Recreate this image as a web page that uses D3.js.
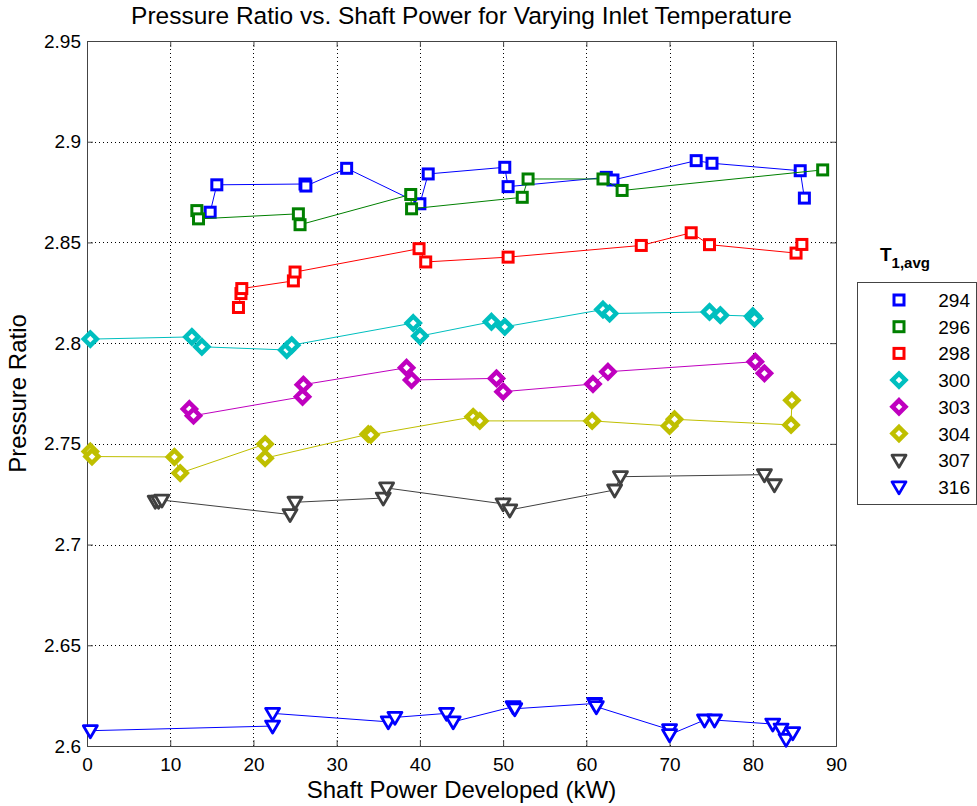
<!DOCTYPE html>
<html>
<head>
<meta charset="utf-8">
<script src="https://cdn.jsdelivr.net/npm/d3@7"></script>
<style>
  body { margin: 0; background: #fff; }
  text { font-family: "Liberation Sans", Arial, sans-serif; fill: #000; }
</style>
</head>
<body>
<script>
// series values: [power kW, pressure ratio]
const temps = ['294', '296', '298', '300', '303', '304', '307', '316'];
const colors = ['#0000ff', '#008000', '#ff0000', '#00bfbf', '#bf00bf', '#bfbf00', '#404040', '#0000ff'];
const shapes = ['square', 'square', 'square', 'diamond', 'diamond', 'diamond', 'tri', 'tri'];

const s294 = [[14.8, 2.865], [15.6, 2.8786], [26.2, 2.879], [26.3, 2.878], [31.2, 2.8868], [40.0, 2.8692], [41.0, 2.884],
  [50.2, 2.8873], [50.6, 2.8777], [62.4, 2.8823], [63.2, 2.881], [73.2, 2.8906], [75.1, 2.8893], [85.7, 2.8856], [86.2, 2.872]];
const s296 = [[13.2, 2.8658], [13.4, 2.8617], [25.4, 2.8642], [25.6, 2.8588], [38.9, 2.8738], [39.0, 2.8667],
  [52.3, 2.8724], [53.0, 2.8815], [62.0, 2.8815], [64.3, 2.8758], [88.4, 2.886]];
const s298 = [[18.2, 2.8177], [18.5, 2.8246], [18.6, 2.8271], [24.8, 2.8309], [25.0, 2.8353], [39.9, 2.8469], [40.7, 2.8403],
  [50.6, 2.8427], [66.6, 2.8485], [72.6, 2.8548], [74.8, 2.8489], [85.2, 2.8447], [85.9, 2.849]];
const s300 = [[0.4, 2.802], [12.6, 2.8031], [13.8, 2.7982], [24.0, 2.7966], [24.6, 2.799], [39.2, 2.810], [40.0, 2.8035],
  [48.6, 2.8106], [50.2, 2.8081], [62.0, 2.8167], [62.8, 2.8147], [74.8, 2.8155], [76.1, 2.8139], [80.0, 2.8134], [80.2, 2.8122]];
const s303 = [[12.3, 2.7673], [12.8, 2.764], [25.9, 2.7734], [26.0, 2.7794], [38.4, 2.7878], [39.0, 2.7817],
  [49.2, 2.7825], [50.0, 2.7759], [60.8, 2.7797], [62.6, 2.7858], [80.3, 2.7908], [81.4, 2.785]];
const s304 = [[0.4, 2.7462], [0.6, 2.7437], [10.5, 2.7435], [11.2, 2.7355], [21.4, 2.7499], [21.4, 2.7429], [33.8, 2.7548], [34.1, 2.7545],
  [46.4, 2.7634], [47.2, 2.7614], [60.7, 2.7614], [70.0, 2.7589], [70.6, 2.7622], [84.6, 2.7594], [84.7, 2.7716]];
const s307 = [[8.2, 2.7215], [8.6, 2.7215], [9.0, 2.7221], [24.4, 2.7149], [25.0, 2.721], [35.6, 2.7231], [36.0, 2.7281],
  [50.0, 2.7202], [50.8, 2.7172], [63.4, 2.7271], [64.1, 2.7337], [81.4, 2.7347], [82.6, 2.7297]];
const s316 = [[0.4, 2.6076], [22.3, 2.6099], [22.3, 2.6162], [36.2, 2.612], [37.0, 2.6142], [43.2, 2.6162], [44.0, 2.612],
  [51.2, 2.6195], [51.4, 2.6185], [61.0, 2.6211], [61.2, 2.6195], [70.0, 2.6081], [70.0, 2.6056], [74.2, 2.6129], [75.4, 2.6129],
  [82.4, 2.6109], [83.4, 2.6084], [84.0, 2.6033], [84.8, 2.6066]];
const seriesData = [s294, s296, s298, s300, s303, s304, s307, s316];

const xTicks = [0, 10, 20, 30, 40, 50, 60, 70, 80, 90];
const yTicks = [2.6, 2.65, 2.7, 2.75, 2.8, 2.85, 2.9, 2.95];

const W = 977, H = 806;
const plot = { left: 87, right: 836, top: 41, bottom: 746 };

const svg = d3.select('body').append('svg')
  .attr('width', W).attr('height', H);

const x = d3.scaleLinear().domain([0, 90]).range([plot.left, plot.right]);
const y = d3.scaleLinear().domain([2.6, 2.95]).range([plot.bottom, plot.top]);

// grid
const grid = svg.append('g').attr('class', 'grid');
grid.selectAll('.gx').data(xTicks.slice(1, -1)).enter().append('line')
  .attr('x1', d => Math.round(x(d)) + 0.5).attr('x2', d => Math.round(x(d)) + 0.5)
  .attr('y1', plot.top).attr('y2', plot.bottom)
  .attr('stroke', '#000').attr('stroke-width', 1).attr('stroke-dasharray', '1,3');
grid.selectAll('.gy').data(yTicks.slice(1, -1)).enter().append('line')
  .attr('y1', d => Math.round(y(d)) + 0.5).attr('y2', d => Math.round(y(d)) + 0.5)
  .attr('x1', plot.left).attr('x2', plot.right)
  .attr('stroke', '#000').attr('stroke-width', 1).attr('stroke-dasharray', '1,3');

// axes, ticks inside like matlab
const tickLen = 6;
const xAxis = d3.axisBottom(x).tickValues(xTicks).tickSize(-tickLen).tickPadding(12).tickFormat(d3.format('d'));
const yAxis = d3.axisLeft(y).tickValues(yTicks).tickSize(-tickLen).tickPadding(6).tickFormat(d => String(+d.toFixed(2)));

svg.append('g').attr('transform', `translate(0,${plot.bottom})`).call(xAxis);
svg.append('g').attr('transform', `translate(${plot.left},0)`).call(yAxis);
svg.append('g').attr('transform', `translate(0,${plot.top})`)
  .call(d3.axisTop(x).tickValues(xTicks).tickSize(-tickLen).tickFormat(''));
svg.append('g').attr('transform', `translate(${plot.right},0)`)
  .call(d3.axisRight(y).tickValues(yTicks).tickSize(-tickLen).tickFormat(''));

svg.selectAll('.domain').attr('stroke', '#444');
svg.selectAll('.tick line').attr('stroke', '#444');
svg.selectAll('.tick text').style('font-size', '19px').attr('fill', '#000');

// series
const marker = (shape, sel, c) => {
  if (shape === 'square') {
    sel.append('rect').attr('x', -5).attr('y', -5).attr('width', 10).attr('height', 10)
      .attr('fill', '#fff').attr('stroke', c).attr('stroke-width', 3);
  } else if (shape === 'diamond') {
    sel.append('path').attr('d', 'M0,-6.5L6.5,0L0,6.5L-6.5,0Z')
      .attr('fill', '#fff').attr('stroke', c).attr('stroke-width', 4.5).attr('stroke-linejoin', 'miter');
  } else {
    sel.append('path').attr('d', 'M-7,-5L7,-5L0,7Z')
      .attr('fill', '#fff').attr('stroke', c).attr('stroke-width', 2.8).attr('stroke-linejoin', 'round');
  }
};

const line = d3.line().x(d => x(d[0])).y(d => y(d[1]));

seriesData.forEach((data, i) => {
  const g = svg.append('g');
  g.append('path').datum(data)
    .attr('d', line).attr('fill', 'none')
    .attr('stroke', colors[i]).attr('stroke-width', 1);
  data.forEach(d => {
    const m = g.append('g').attr('transform', `translate(${x(d[0])},${y(d[1])})`);
    marker(shapes[i], m, colors[i]);
  });
});

// text
svg.append('text').attr('x', (plot.left + plot.right) / 2).attr('y', 24)
  .attr('text-anchor', 'middle').style('font-size', '24.5px')
  .text('Pressure Ratio vs. Shaft Power for Varying Inlet Temperature');
svg.append('text').attr('x', (plot.left + plot.right) / 2).attr('y', 798)
  .attr('text-anchor', 'middle').style('font-size', '24px')
  .text('Shaft Power Developed (kW)');
svg.append('text').attr('transform', `translate(26,${(plot.top + plot.bottom) / 2}) rotate(-90)`)
  .attr('text-anchor', 'middle').style('font-size', '24px')
  .text('Pressure Ratio');

// legend
const lt = svg.append('text').attr('x', 880).attr('y', 261)
  .style('font-size', '19px').style('font-weight', 'bold');
lt.append('tspan').text('T');
lt.append('tspan').attr('dy', 7).style('font-size', '15px').text('1,avg');

svg.append('rect').attr('x', 857.5).attr('y', 282.5).attr('width', 119).attr('height', 222)
  .attr('fill', '#fff').attr('stroke', '#444').attr('stroke-width', 1);

temps.forEach((t, i) => {
  const yy = 300 + i * 26.7;
  const m = svg.append('g').attr('transform', `translate(899,${yy})`);
  marker(shapes[i], m, colors[i]);
  svg.append('text').attr('x', 970).attr('y', yy + 7)
    .attr('text-anchor', 'end').style('font-size', '19px').text(t);
});
</script>
</body>
</html>
